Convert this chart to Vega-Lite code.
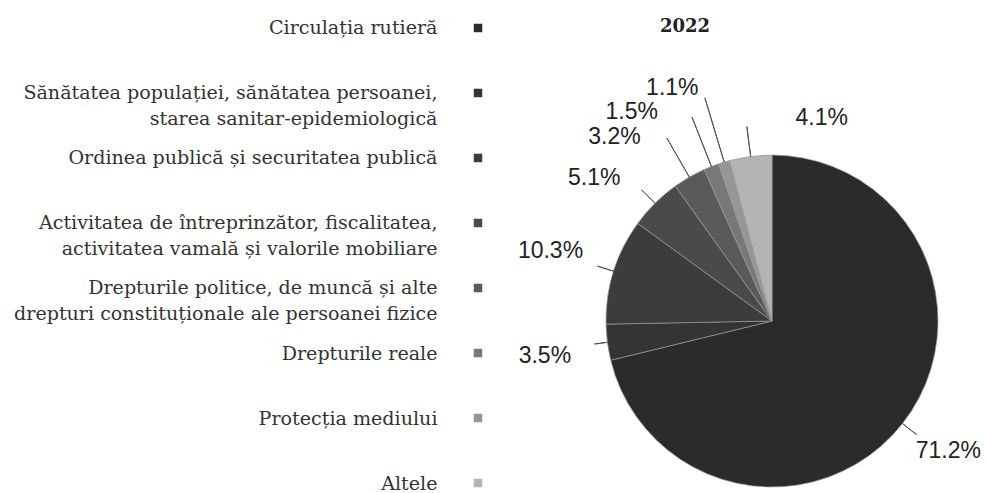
{
  "$schema": "https://vega.github.io/schema/vega-lite/v6.json",
  "padding": {"left": 13, "top": 0, "right": 0, "bottom": 0},
  "background": "white",
  "config": {"view": {"stroke": null}, "font": "DejaVu Serif"},
  "datasets": {
    "d": [
      {"order": 1, "label": "Circulația rutieră", "share": 0.712},
      {"order": 2, "label": "Sănătatea populației, sănătatea persoanei,|starea sanitar-epidemiologică", "share": 0.035},
      {"order": 3, "label": "Ordinea publică și securitatea publică", "share": 0.103},
      {"order": 4, "label": "Activitatea de întreprinzător, fiscalitatea,|activitatea vamală și valorile mobiliare", "share": 0.051},
      {"order": 5, "label": "Drepturile politice, de muncă și alte|drepturi constituționale ale persoanei fizice", "share": 0.032},
      {"order": 6, "label": "Drepturile reale", "share": 0.015},
      {"order": 7, "label": "Protecția mediului", "share": 0.011},
      {"order": 8, "label": "Altele", "share": 0.041}
    ]
  },
  "spacing": 29,
  "hconcat": [
    {
      "data": {"name": "d"},
      "width": 20,
      "height": 493,
      "mark": {"type": "square", "size": 72, "opacity": 1},
      "encoding": {
        "y": {
          "field": "label",
          "type": "nominal",
          "sort": {"field": "order", "op": "min"},
          "scale": {"type": "point", "padding": 0.292, "align": 0.737},
          "axis": {
            "title": null,
            "domain": false,
            "ticks": false,
            "grid": false,
            "labelExpr": "split(datum.value, '|')",
            "labelFont": "DejaVu Serif",
            "labelFontSize": 19.1,
            "labelColor": "#333333",
            "labelPadding": 31,
            "labelLimit": 0,
            "labelLineHeight": 26,
            "labelOverlap": false,
            "labelBound": false
          }
        },
        "color": {
          "field": "label",
          "type": "nominal",
          "sort": {"field": "order", "op": "min"},
          "scale": {"range": ["#2b2b2b", "#343434", "#3c3c3c", "#4a4a4a", "#5a5a5a", "#787878", "#969696", "#b4b4b4"]},
          "legend": null
        }
      }
    },
    {
      "data": {"name": "d"},
      "width": 430,
      "height": 642,
      "title": {"text": "2022", "font": "DejaVu Serif", "fontSize": 18, "fontWeight": "bold", "offset": -36, "anchor": "middle", "dx": -87, "color": "#222222"},
      "resolve": {"scale": {"theta": "independent"}},
      "layer": [
        {
          "mark": {"type": "arc", "radius": 166, "stroke": "#999999", "strokeWidth": 0.7},
          "encoding": {
            "theta": {"field": "share", "type": "quantitative", "stack": true},
            "order": {"field": "order", "type": "quantitative"},
            "color": {
              "field": "label",
              "type": "nominal",
              "sort": {"field": "order", "op": "min"},
              "scale": {"range": ["#2b2b2b", "#343434", "#3c3c3c", "#4a4a4a", "#5a5a5a", "#787878", "#969696", "#b4b4b4"]},
              "legend": null
            }
          }
        },
        {
          "mark": {
            "type": "arc",
            "innerRadius": 166,
            "outerRadius": {"expr": "[199, 179, 183, 185, 211, 219, 233, 196][datum.order - 1]"},
            "padAngle": 3.2,
            "fill": "#ffffff",
            "fillOpacity": 0,
            "stroke": "#555555",
            "strokeWidth": 1,
            "strokeOpacity": {"expr": "datum.order == 1 ? 0 : 1"}
          },
          "encoding": {
            "theta": {"field": "share", "type": "quantitative", "stack": true},
            "order": {"field": "order", "type": "quantitative"}
          }
        },
        {
          "transform": [{"filter": "datum.order == 1"}],
          "mark": {
            "type": "arc",
            "innerRadius": 166,
            "outerRadius": 184,
            "fill": "#ffffff",
            "fillOpacity": 0,
            "stroke": "#555555",
            "strokeWidth": 1
          },
          "encoding": {
            "theta": {"field": "share", "type": "quantitative", "scale": {"domain": [0, 2]}, "stack": false},
            "theta2": {"field": "share"}
          }
        },
        {
          "mark": {
            "type": "text",
            "radius": 228,
            "font": "Liberation Sans",
            "fontSize": 23,
            "fill": "#222222",
            "align": "center",
            "baseline": "middle",
            "dx": {"expr": "[-3, -1, -4, -17, -44, -57, -34, 79][datum.order - 1]"},
            "dy": {"expr": "[-11, 6, -2, 19, 14, 3, -15, 23][datum.order - 1]"}
          },
          "encoding": {
            "theta": {"field": "share", "type": "quantitative", "stack": true},
            "order": {"field": "order", "type": "quantitative"},
            "text": {"field": "share", "type": "quantitative", "format": ".1%"}
          }
        }
      ]
    }
  ]
}
